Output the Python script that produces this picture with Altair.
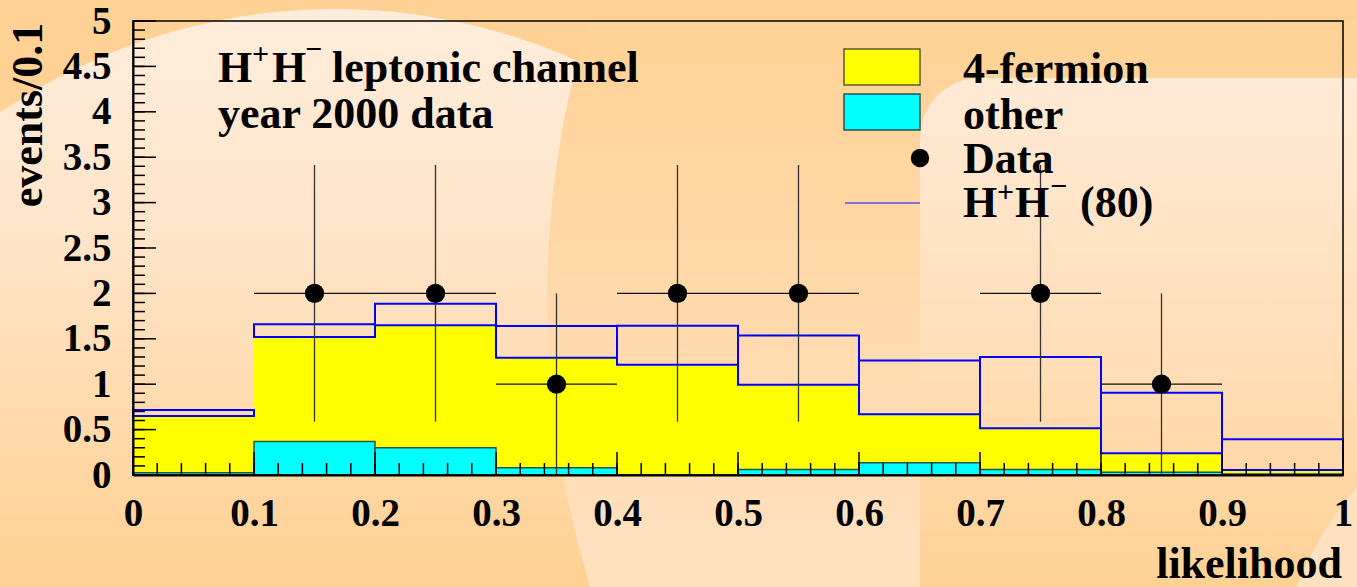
import altair as alt
import pandas as pd
import numpy as np

# ---------------- data ----------------
bin_lo   = [0.0, 0.1, 0.2, 0.3, 0.4, 0.5, 0.6, 0.7, 0.8, 0.9]
bin_hi   = [0.1, 0.2, 0.3, 0.4, 0.5, 0.6, 0.7, 0.8, 0.9, 1.0]
other    = [0.025, 0.37, 0.30, 0.08, 0.0, 0.06, 0.135, 0.06, 0.03, 0.01]
fermion4 = [0.625, 1.15, 1.35, 1.21, 1.215, 0.935, 0.535, 0.455, 0.21, 0.045]
signal   = [0.065, 0.14, 0.235, 0.35, 0.43, 0.54, 0.59, 0.785, 0.665, 0.34]

data_x   = [0.15, 0.25, 0.35, 0.45, 0.55, 0.75, 0.85]
data_n   = [2, 2, 1, 2, 2, 2, 1]
data_err = [1.414, 1.414, 1.0, 1.414, 1.414, 1.414, 1.0]

x_ticks_major = [0.0, 0.1, 0.2, 0.3, 0.4, 0.5, 0.6, 0.7, 0.8, 0.9, 1.0]
y_ticks_major = [0, 0.5, 1, 1.5, 2, 2.5, 3, 3.5, 4, 4.5, 5]

# ---------------- layout ----------------
W, H = 1210, 454
FONT = "Liberation Serif"
BG = "#FFD194"

hist = pd.DataFrame({"lo": bin_lo, "hi": bin_hi, "other": other,
                     "f4": fermion4, "sig": signal})
hist["bkg"] = hist["other"] + hist["f4"]
hist["tot"] = hist["bkg"] + hist["sig"]

pts = pd.DataFrame({"x": data_x, "n": data_n, "err": data_err})

x_minor = pd.DataFrame({"v": np.round(np.arange(0, 1.0001, 0.02), 3)})
x_major = pd.DataFrame({"v": x_ticks_major})
y_minor = pd.DataFrame({"v": np.round(np.arange(0, 5.0001, 0.1), 3)})
y_major = pd.DataFrame({"v": y_ticks_major})

xs = alt.Scale(domain=[0, 1], nice=False, zero=False)
ys = alt.Scale(domain=[0, 5], nice=False, zero=False)

xaxis = alt.Axis(values=x_ticks_major, format="~g", tickSize=0, grid=False,
                 labelFont=FONT, labelFontWeight="bold", labelFontSize=39,
                 labelColor="black", labelPadding=19, labelFlush=False,
                 domain=True, domainColor="black", domainWidth=2, title=None,
                 zindex=2)
yaxis = alt.Axis(values=y_ticks_major, format="~g", tickSize=0, grid=False,
                 labelFont=FONT, labelFontWeight="bold", labelFontSize=39,
                 labelColor="black", labelPadding=22, labelFlush=False,
                 labelBaseline="middle",
                 domain=True, domainColor="black", domainWidth=2, title=None,
                 zindex=2)


def X(f):
    return alt.X(f, scale=xs, axis=xaxis)


def Y(f):
    return alt.Y(f, scale=ys, axis=yaxis)


one = pd.DataFrame({"a": [0]})


def vgrad(stops):
    return alt.Gradient(gradient="linear", x1=0, x2=0, y1=0, y2=1,
                        stops=[alt.GradientStop(color=c, offset=o) for o, c in stops])


# ---------------- background swooshes (decoration) ----------------
left_swoosh = alt.Chart(one).mark_arc(
    radius=594, theta=0, theta2=6.2832,
    fill=vgrad([(0, "#FFEDDC"), (0.2, "#FFE4C8"), (0.47, "#FFD194"), (1, "#FFD194")]),
).encode(x=alt.value(335 - 133), y=alt.value(603 - 21))

mid_swoosh = alt.Chart(one).mark_arc(
    radius=965, theta=0, theta2=6.2832,
    fill=vgrad([(0, "#FFD194"), (0.345, "#FFD194"), (0.63, "#FFE0BE"), (1, "#FFE0BE")]),
).encode(x=alt.value(1512 - 133), y=alt.value(301 - 21))

right_swoosh = alt.Chart(one).mark_rect(
    fill=vgrad([(0, "#FFEAD6"), (0.5, "#FFDEB8"), (0.9, "#FFD194"), (1, "#FFD194")]),
    cornerRadiusTopLeft=60
).encode(x=alt.value(920 - 133), x2=alt.value(1400 - 133),
         y=alt.value(78 - 21), y2=alt.value(640 - 21))

corner_swoosh = alt.Chart(one).mark_arc(
    radius=330, theta=0, theta2=6.2832, fill="#FFE0C0",
).encode(x=alt.value(1605 - 133), y=alt.value(705 - 21))

# ---------------- histograms ----------------
yellow = alt.Chart(hist).mark_rect(color="#FFFF00").encode(
    x=X("lo:Q"), x2="hi:Q", y=Y("bkg:Q"), y2=alt.datum(0))

cyan = alt.Chart(hist).mark_rect(
    color="#00FFFF", stroke="#2F4F4F", strokeWidth=1.5).encode(
    x=X("lo:Q"), x2="hi:Q", y=Y("other:Q"), y2=alt.datum(0))

blue = alt.Chart(hist).mark_rect(
    fillOpacity=0, stroke="#0000FF", strokeWidth=2).encode(
    x=X("lo:Q"), x2="hi:Q", y=Y("tot:Q"), y2="bkg:Q")

# ---------------- data points ----------------
hbar = alt.Chart(pts).transform_calculate(
    x0="datum.x - 0.05", x1="datum.x + 0.05").mark_rule(
    color="#111111", strokeWidth=1.3).encode(
    x=X("x0:Q"), x2="x1:Q", y=Y("n:Q"))

vbar = alt.Chart(pts).transform_calculate(
    y0="datum.n - datum.err", y1="datum.n + datum.err").mark_rule(
    color="#333333", strokeWidth=1.3).encode(
    x=X("x:Q"), y=Y("y0:Q"), y2="y1:Q")

dots = alt.Chart(pts).mark_point(
    shape="circle", filled=True, color="black", size=370, opacity=1).encode(
    x=X("x:Q"), y=Y("n:Q"))

# ---------------- inward ticks ----------------
xt_minor = alt.Chart(x_minor).mark_rule(color="black", strokeWidth=1.5).encode(
    x=X("v:Q"), y=alt.value(H), y2=alt.value(H - 12))
xt_major = alt.Chart(x_major).mark_rule(color="black", strokeWidth=1.5).encode(
    x=X("v:Q"), y=alt.value(H), y2=alt.value(H - 23))
yt_minor = alt.Chart(y_minor).mark_rule(color="black", strokeWidth=1.5).encode(
    y=Y("v:Q"), x=alt.value(0), x2=alt.value(12))
yt_major = alt.Chart(y_major).mark_rule(color="black", strokeWidth=1.5).encode(
    y=Y("v:Q"), x=alt.value(0), x2=alt.value(23))

# plot frame drawn above the background decoration
frame = alt.Chart(one).mark_rect(
    fillOpacity=0, stroke="black", strokeWidth=1.5).encode(
    x=alt.value(0), x2=alt.value(W), y=alt.value(0), y2=alt.value(H))


# ---------------- texts ----------------
def txt(s, x, y, size=44, align="left", baseline="alphabetic", angle=0):
    return alt.Chart(one).mark_text(
        text=s, font=FONT, fontWeight="bold", fontSize=size, color="black",
        align=align, baseline=baseline, angle=angle
    ).encode(x=alt.value(x), y=alt.value(y))


texts = [
    txt("H", 85, 61), txt("+", 119, 43, size=30), txt("H", 139, 61),
    txt("\u2212", 172, 38, size=30), txt("leptonic channel", 199, 61),
    txt("year 2000 data", 85, 107),
    txt("events/0.1", -104, 94, size=44, align="center", baseline="middle", angle=270),
    txt("likelihood", 1209, 557, size=44, align="right"),
    # legend
    txt("4-fermion", 830, 62), txt("other", 830, 108), txt("Data", 830, 152),
    txt("H", 830, 196), txt("+", 864, 181, size=30), txt("H", 882, 196),
    txt("\u2212", 917, 175, size=30), txt("(80)", 947, 196),
]

leg_yellow = alt.Chart(one).mark_rect(
    color="#FFFF00", stroke="#5A5A2A", strokeWidth=1.5).encode(
    x=alt.value(711), x2=alt.value(787), y=alt.value(28), y2=alt.value(64))
leg_cyan = alt.Chart(one).mark_rect(
    color="#00FFFF", stroke="#2F4F4F", strokeWidth=1.5).encode(
    x=alt.value(711), x2=alt.value(787), y=alt.value(73), y2=alt.value(109))
leg_dot = alt.Chart(one).mark_point(
    shape="circle", filled=True, color="black", size=340, opacity=1).encode(
    x=alt.value(787), y=alt.value(137))
leg_line = alt.Chart(one).mark_rule(color="#5A4FE8", strokeWidth=1.5).encode(
    x=alt.value(712), x2=alt.value(787), y=alt.value(182))

chart = alt.layer(
    left_swoosh, mid_swoosh, right_swoosh, corner_swoosh,
    yellow, cyan, blue,
    xt_minor, xt_major, yt_minor, yt_major,
    vbar, hbar, dots, frame,
    leg_yellow, leg_cyan, leg_dot, leg_line,
    *texts,
).properties(
    width=W, height=H, background=BG,
    autosize=alt.AutoSizeParams(type="none"),
    padding={"left": 133, "top": 21, "right": 14, "bottom": 112},
).configure_view(
    stroke=None, fill=None
)

chart.save("out.html", embed_options={"renderer": "svg", "actions": False})
